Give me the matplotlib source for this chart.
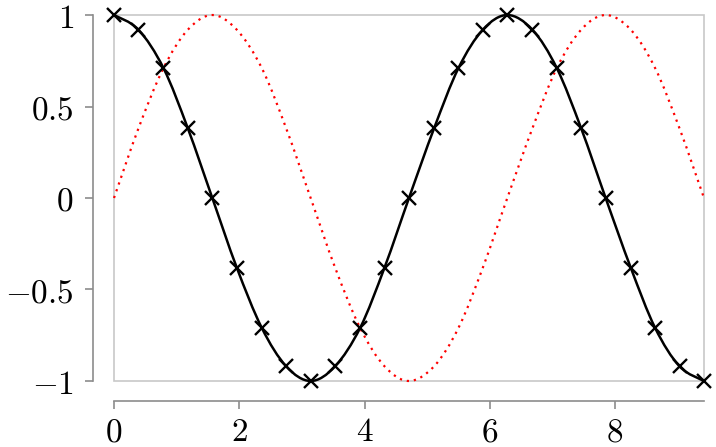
import matplotlib
matplotlib.use("Agg")
import matplotlib.pyplot as plt
from matplotlib.path import Path
from matplotlib.patches import PathPatch, Rectangle

plt.rcParams['mathtext.fontset'] = 'cm'

# samples (25 per curve, 0 .. 3*pi)
xs = [0.00, 0.39, 0.79, 1.18, 1.57, 1.96, 2.36, 2.75, 3.14, 3.53, 3.93, 4.32,
      4.71, 5.11, 5.50, 5.89, 6.28, 6.68, 7.07, 7.46, 7.85, 8.25, 8.64, 9.03, 9.42]
cos_vals = [1.00, 0.92, 0.71, 0.38, 0.00, -0.38, -0.71, -0.92, -1.00, -0.92, -0.71, -0.38,
            0.00, 0.38, 0.71, 0.92, 1.00, 0.92, 0.71, 0.38, 0.00, -0.38, -0.71, -0.92, -1.00]
sin_vals = [0.00, 0.38, 0.71, 0.92, 1.00, 0.92, 0.71, 0.38, 0.00, -0.38, -0.71, -0.92,
            -1.00, -0.92, -0.71, -0.38, 0.00, 0.38, 0.71, 0.92, 1.00, 0.92, 0.71, 0.38, 0.00]
x_ticks = [0, 2, 4, 6, 8]
y_ticks = [-1, -0.5, 0, 0.5, 1]
y_tick_labels = ['$-1$', '$-0.5$', '$0$', '$0.5$', '$1$']


def smooth_path(px, py, k=1.0 / 6):
    # bezier through the points, like "smooth" in pgfplots
    n = len(px)
    verts = [(px[0], py[0])]
    codes = [Path.MOVETO]
    for i in range(n - 1):
        i0 = max(i - 1, 0)
        i3 = min(i + 2, n - 1)
        c1 = (px[i] + k * (px[i + 1] - px[i0]), py[i] + k * (py[i + 1] - py[i0]))
        c2 = (px[i + 1] - k * (px[i3] - px[i]), py[i + 1] - k * (py[i3] - py[i]))
        verts += [c1, c2, (px[i + 1], py[i + 1])]
        codes += [Path.CURVE4] * 3
    return Path(verts, codes)


fig = plt.figure(figsize=(7.16, 4.47), dpi=100)
ax = fig.add_axes([0.1592, 0.1477, 0.824, 0.8187])

ax.add_patch(Rectangle((0, 0), 1, 1, transform=ax.transAxes, fill=False,
                       edgecolor='#c8c8c8', lw=1.2, clip_on=False, zorder=0.5))

ax.add_patch(PathPatch(smooth_path(xs, sin_vals), fill=False, edgecolor='red',
                       lw=1.6, linestyle=(0, (1, 2.2)), clip_on=False, zorder=2))
ax.add_patch(PathPatch(smooth_path(xs, cos_vals), fill=False, edgecolor='black',
                       lw=1.8, clip_on=False, zorder=3))
ax.plot(xs, cos_vals, linestyle='none', marker='x', color='black',
        markersize=10, mew=1.7, clip_on=False, zorder=4)

ax.set_xlim(0, 9.42)
ax.set_ylim(-1, 1)
ax.set_xticks(x_ticks)
ax.set_xticklabels(['$%d$' % t for t in x_ticks])
ax.set_yticks(y_ticks)
ax.set_yticklabels(y_tick_labels)

for s in ['top', 'right']:
    ax.spines[s].set_visible(False)
# outward offsets are in points (1 pt = 1.39 px here)
ax.spines['left'].set_position(('outward', 15))
ax.spines['bottom'].set_position(('outward', 14.5))
ax.spines['left'].set_bounds(-1, 1)
ax.spines['bottom'].set_bounds(0, 9.42)
for s in ['left', 'bottom']:
    ax.spines[s].set_color('#8c8c8c')
    ax.spines[s].set_linewidth(1.2)

ax.tick_params(axis='both', colors='#8c8c8c', labelcolor='black', length=6,
               width=1.2, labelsize=24)
ax.tick_params(axis='y', pad=8)
ax.tick_params(axis='x', pad=4)

fig.savefig('out.png', dpi=100)
